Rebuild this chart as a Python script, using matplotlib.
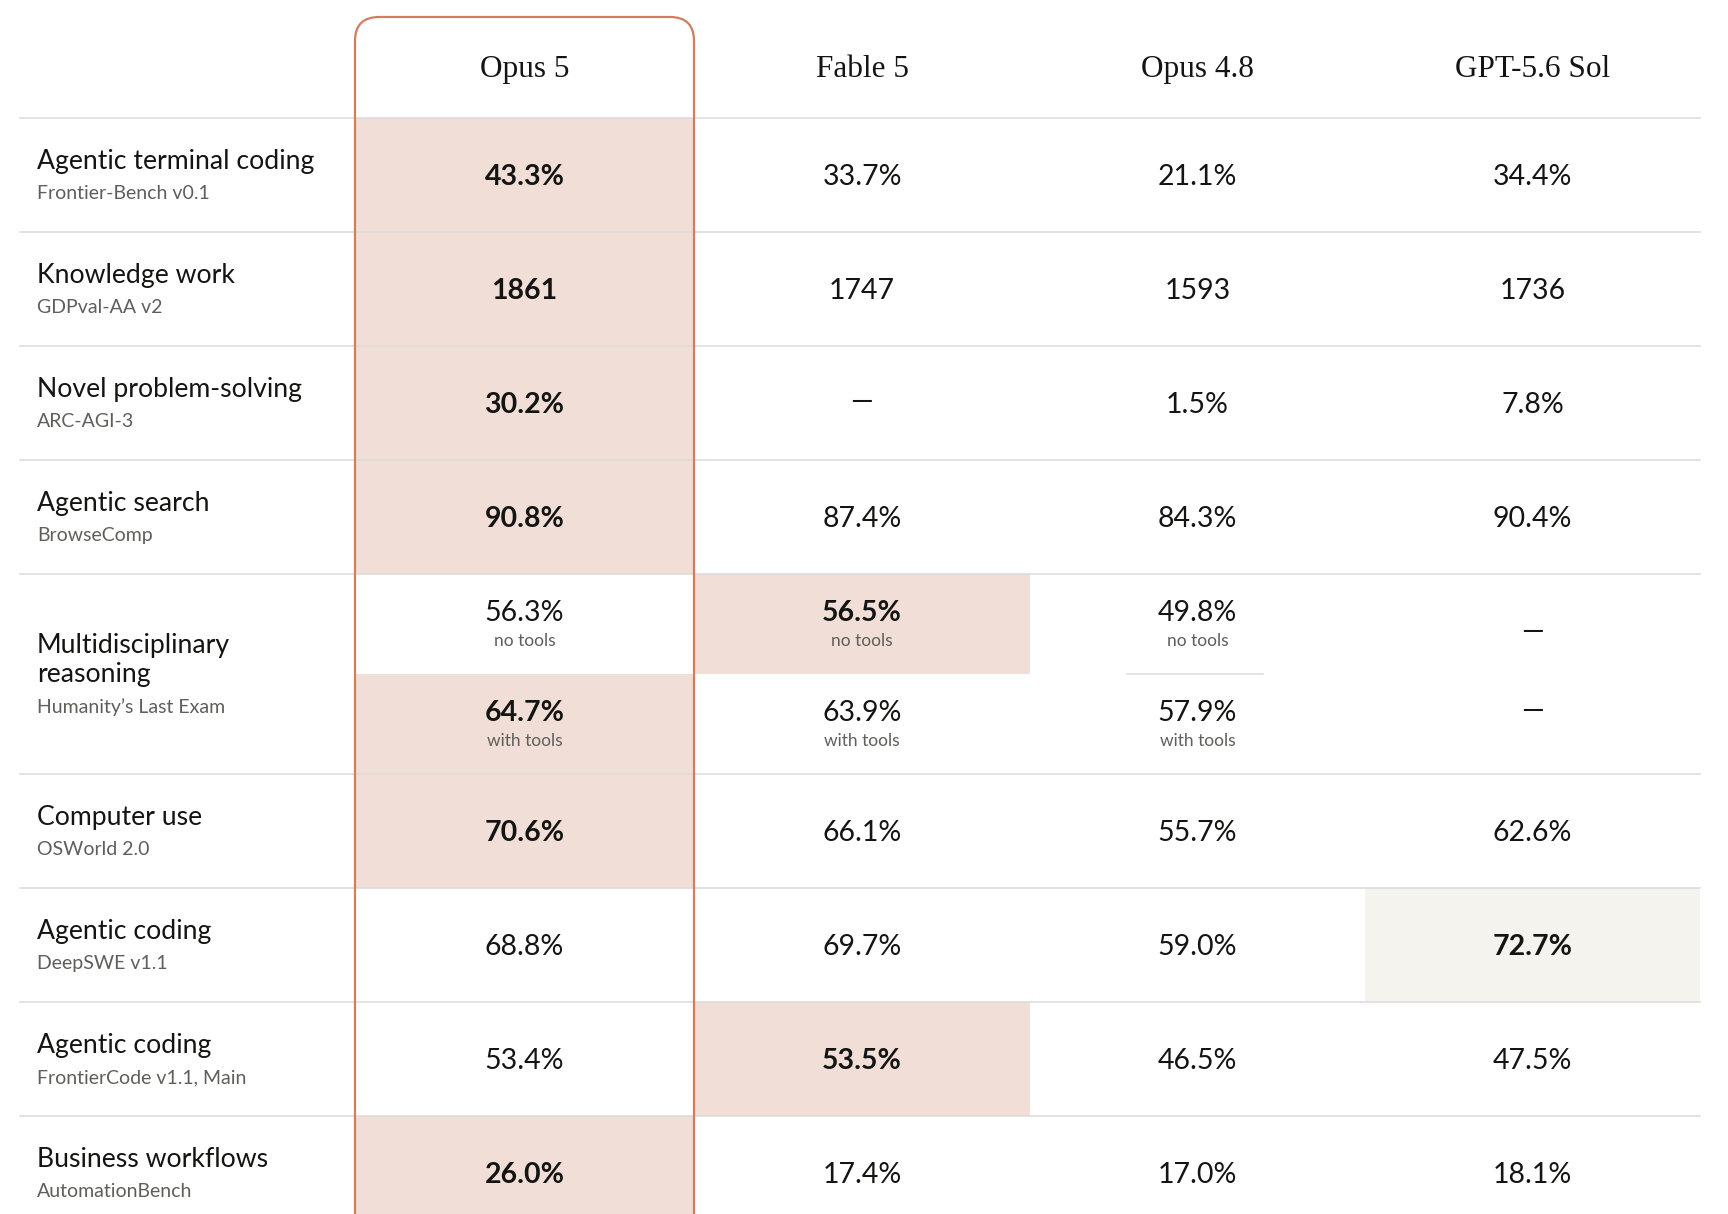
import matplotlib
matplotlib.use('Agg')
from matplotlib import pyplot as plt
from matplotlib.patches import Rectangle, FancyBboxPatch

# table content
models = ['Opus 5', 'Fable 5', 'Opus 4.8', 'GPT-5.6 Sol']
anthropic = [True, True, True, False]
benchmarks = ['Agentic terminal coding', 'Knowledge work', 'Novel problem-solving', 'Agentic search',
              'Multidisciplinary\nreasoning', 'Computer use', 'Agentic coding', 'Agentic coding',
              'Business workflows']
subtitles = ['Frontier-Bench v0.1', 'GDPval-AA v2', 'ARC-AGI-3', 'BrowseComp', 'Humanity\u2019s Last Exam',
             'OSWorld 2.0', 'DeepSWE v1.1', 'FrontierCode v1.1, Main', 'AutomationBench']
split_notes = ['no tools', 'with tools']
# the multidisciplinary row holds two values (no tools, with tools)
opus5 = ['43.3%', '1861', '30.2%', '90.8%', ['56.3%', '64.7%'], '70.6%', '68.8%', '53.4%', '26.0%']
fable5 = ['33.7%', '1747', '\u2014', '87.4%', ['56.5%', '63.9%'], '66.1%', '69.7%', '53.5%', '17.4%']
opus48 = ['21.1%', '1593', '1.5%', '84.3%', ['49.8%', '57.9%'], '55.7%', '59.0%', '46.5%', '17.0%']
gpt56 = ['34.4%', '1736', '7.8%', '90.4%', ['\u2014', '\u2014'], '62.6%', '72.7%', '47.5%', '18.1%']
scores = [opus5, fable5, opus48, gpt56]

W, H = 1728, 1214
SANS = ['Lato', 'DejaVu Sans']
SERIF = ['Liberation Serif', 'DejaVu Serif']
ink = '#141413'
grey_txt = '#5f5e5a'
pink = '#f1dfd7'
beige = '#f4f3ee'
clay = '#d27d5d'
rule = '#dcdad6'

col_edges = [355, 694, 1030, 1365, 1700]
line_x0 = 20
header_bottom = 118
row_h = 114
multi_h = 200

fs_title = 19.2
fs_sub = 14
fs_val = 20.5
fs_note = 12.5


def num(s):
    try:
        return float(s.replace('%', ''))
    except ValueError:
        return None


def best_index(vals):
    nums = [num(v) for v in vals]
    good = [n for n in nums if n is not None]
    return nums.index(max(good))


fig = plt.figure(figsize=(W / 100, H / 100), dpi=100)
ax = fig.add_axes([0, 0, 1, 1])
ax.set_xlim(0, W)
ax.set_ylim(H, 0)
ax.axis('off')

centers = [(col_edges[i] + col_edges[i + 1]) / 2 for i in range(len(models))]

# header
for i, m in enumerate(models):
    ax.text(centers[i], 77, m, ha='center', va='baseline', fontsize=22.5, family=SERIF, color=ink)

# row tops
tops = []
y = header_bottom
for b in benchmarks:
    tops.append(y)
    y += multi_h if '\n' in b else row_h
tops.append(y)

for r, b in enumerate(benchmarks):
    t = tops[r]
    multi = isinstance(opus5[r], list)
    if not multi:
        ax.text(37, t + 51, b, ha='left', va='baseline', fontsize=fs_title, family=SANS, color=ink)
        ax.text(37, t + 81, subtitles[r], ha='left', va='baseline', fontsize=fs_sub, family=SANS, color=grey_txt)
        vals = [s[r] for s in scores]
        k = best_index(vals)
        ax.add_patch(Rectangle((col_edges[k], t), col_edges[k + 1] - col_edges[k], row_h,
                               facecolor=pink if anthropic[k] else beige, edgecolor='none', zorder=0))
        for i, v in enumerate(vals):
            if v == '\u2014':
                ax.text(centers[i], t + 64, v, ha='center', va='baseline', fontsize=fs_val, family=SANS, color=ink)
            else:
                ax.text(centers[i], t + 67, v, ha='center', va='baseline', fontsize=fs_val, family=SANS,
                        color=ink, fontweight='bold' if i == k else 'normal')
    else:
        # baseline of the last line of the wrapped title
        ax.text(37, t + 108, b, ha='left', va='baseline', fontsize=fs_title, family=SANS, color=ink,
                linespacing=1.22)
        ax.text(37, t + 139, subtitles[r], ha='left', va='baseline', fontsize=fs_sub, family=SANS, color=grey_txt)
        sub_h = multi_h / 2
        for j, note in enumerate(split_notes):
            st = t + j * sub_h
            vals = [s[r][j] for s in scores]
            k = best_index(vals)
            ax.add_patch(Rectangle((col_edges[k], st), col_edges[k + 1] - col_edges[k], sub_h,
                                   facecolor=pink if anthropic[k] else beige, edgecolor='none', zorder=0))
            for i, v in enumerate(vals):
                if v == '\u2014':
                    ax.text(centers[i], st + (66 if j == 0 else 45), v, ha='center', va='baseline',
                            fontsize=fs_val, family=SANS, color=ink)
                else:
                    ax.text(centers[i], st + 47, v, ha='center', va='baseline', fontsize=fs_val, family=SANS,
                            color=ink, fontweight='bold' if i == k else 'normal')
                    ax.text(centers[i], st + 72, note, ha='center', va='baseline', fontsize=fs_note,
                            family=SANS, color=grey_txt)
        # short divider under Opus 4.8 "no tools"
        ax.plot([1127, 1263], [t + sub_h, t + sub_h], color=rule, lw=1.1, zorder=2)

# horizontal rules
for yy in tops:
    ax.plot([line_x0, col_edges[-1]], [yy, yy], color=rule, lw=1.1, zorder=2)

# Opus 5 outline with rounded top
ax.add_patch(FancyBboxPatch((col_edges[0], 17), col_edges[1] - col_edges[0], H + 100,
                            boxstyle='round,pad=0,rounding_size=24', facecolor='none',
                            edgecolor=clay, lw=1.6, zorder=3))

fig.savefig('out.png', dpi=100)
